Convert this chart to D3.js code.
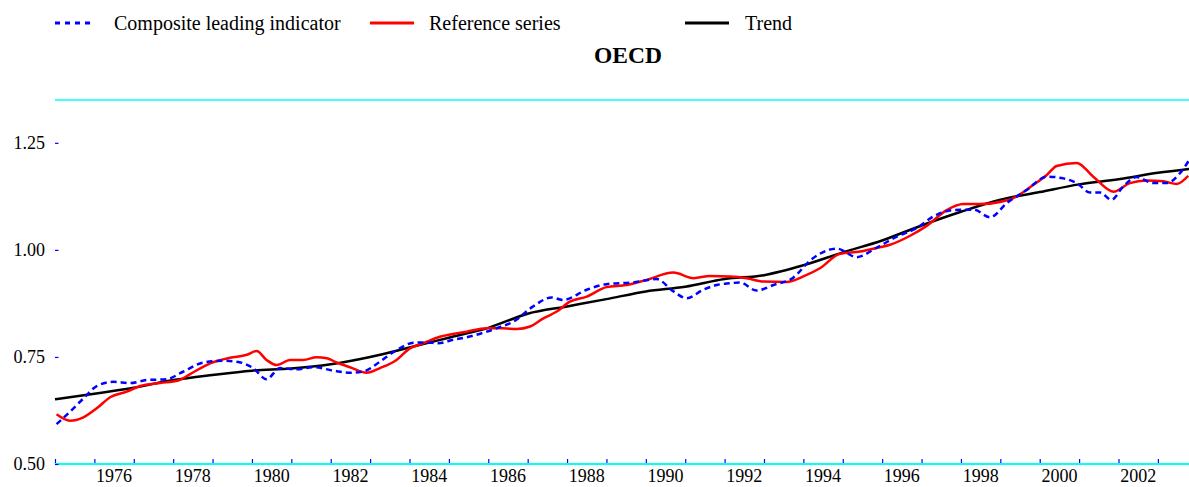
<!DOCTYPE html>
<html>
<head>
<meta charset="utf-8">
<script src="https://cdn.jsdelivr.net/npm/d3@7"></script>
<style>
  html, body { margin: 0; padding: 0; background: #fff; }
  svg { display: block; }
  svg text { font-family: "Liberation Serif", "Times New Roman", serif !important; }
</style>
</head>
<body>
<svg id="chart" width="1189" height="487"></svg>
<script>
// ---- Data ----
const cliYears = [1975.04,1975.38,1975.72,1976.06,1976.48,1976.90,1977.33,1977.83,1978.26,1978.77,1979.27,1979.61,1980.03,1980.37,1980.71,1981.14,1981.56,1982.07,1982.49,1982.83,1983.25,1983.67,1984.10,1984.43,1984.73,1985.11,1985.50,1985.96,1986.30,1986.63,1987.14,1987.61,1987.90,1988.50,1989.00,1989.68,1990.27,1990.70,1991.04,1991.46,1991.80,1992.14,1992.39,1992.81,1993.24,1993.74,1994.17,1994.40,1994.85,1995.35,1995.86,1996.37,1996.88,1997.30,1997.81,1998.32,1998.74,1999.16,1999.67,2000.18,2000.60,2000.94,2001.28,2001.53,2001.82,2002.12,2002.46,2002.88,2003.22,2003.56,2003.79];
const cliValues = [0.593,0.622,0.653,0.682,0.692,0.689,0.696,0.698,0.716,0.737,0.741,0.739,0.724,0.698,0.724,0.721,0.726,0.718,0.713,0.716,0.739,0.766,0.783,0.784,0.782,0.790,0.797,0.809,0.820,0.832,0.868,0.889,0.883,0.907,0.920,0.924,0.932,0.903,0.887,0.907,0.918,0.922,0.924,0.905,0.918,0.935,0.975,0.990,1.003,0.983,1.005,1.031,1.051,1.078,1.093,1.094,1.076,1.109,1.140,1.171,1.167,1.156,1.134,1.134,1.117,1.148,1.170,1.156,1.156,1.179,1.209];

const refYears = [1975.04,1975.38,1975.72,1976.06,1976.40,1976.82,1977.16,1977.67,1978.13,1978.43,1978.94,1979.44,1979.87,1980.12,1980.37,1980.63,1980.97,1981.30,1981.64,1981.90,1982.15,1982.49,1982.91,1983.25,1983.67,1984.01,1984.35,1984.77,1985.45,1985.96,1986.38,1986.72,1987.06,1987.40,1987.74,1988.07,1988.50,1989.00,1989.51,1990.02,1990.70,1991.21,1991.63,1992.14,1992.56,1992.98,1993.57,1994.00,1994.42,1994.93,1995.44,1995.94,1996.20,1996.71,1997.13,1997.64,1998.06,1998.48,1998.99,1999.33,1999.84,2000.18,2000.43,2000.94,2001.36,2001.87,2002.29,2002.71,2003.14,2003.48,2003.77];
const refValues = [0.616,0.601,0.609,0.630,0.656,0.669,0.682,0.689,0.695,0.710,0.735,0.748,0.755,0.764,0.743,0.731,0.743,0.743,0.749,0.747,0.737,0.726,0.713,0.724,0.743,0.770,0.782,0.797,0.809,0.817,0.817,0.815,0.821,0.840,0.856,0.879,0.891,0.913,0.918,0.930,0.947,0.934,0.939,0.938,0.934,0.926,0.925,0.938,0.957,0.991,0.996,1.006,1.012,1.033,1.056,1.093,1.107,1.107,1.112,1.121,1.152,1.175,1.196,1.203,1.171,1.136,1.156,1.162,1.160,1.154,1.173];

const trendYears = [1975.0,1976.0,1977.0,1978.0,1979.0,1980.0,1981.0,1982.0,1983.0,1984.0,1985.0,1986.0,1987.0,1988.0,1989.0,1990.0,1991.0,1992.0,1993.0,1994.0,1995.0,1996.0,1997.0,1998.0,1999.0,2000.0,2001.0,2002.0,2003.0,2003.79];
const trendValues = [0.651,0.664,0.678,0.696,0.708,0.718,0.723,0.733,0.750,0.772,0.795,0.818,0.851,0.868,0.885,0.903,0.914,0.932,0.941,0.964,0.994,1.022,1.057,1.089,1.117,1.135,1.153,1.165,1.180,1.189];

const yTickValues = [0.50, 0.75, 1.00, 1.25];
const xTickYears = d3.range(1975, 2004);
const xLabelYears = d3.range(1976, 2003, 2);

const legendItems = ["Composite leading indicator", "Reference series", "Trend"];
const titleText = "OECD";

// ---- Layout ----
const svg = d3.select("#chart");
const plotLeft = 55, plotRight = 1189, plotTop = 100, plotBottom = 464;
const serif = "'Liberation Serif', 'Times New Roman', serif";

const x = d3.scaleLinear().domain([1975, 2003.79]).range([plotLeft, plotRight]);
const y = d3.scaleLinear().domain([0.5, 1.35]).range([plotBottom, plotTop]);

const cyan = "#00FFFF", blue = "#0000FF", red = "#FF0000", black = "#000000";

// top frame line
svg.append("line").attr("x1", plotLeft).attr("x2", plotRight).attr("y1", plotTop).attr("y2", plotTop)
  .attr("stroke", cyan).attr("stroke-width", 1.5);

// x axis
const xAxis = d3.axisBottom(x).tickValues(xTickYears).tickSize(0).tickFormat("");
const gx = svg.append("g").attr("transform", `translate(0,${plotBottom})`).call(xAxis);
gx.select(".domain").remove();
gx.append("line").attr("x1", plotLeft).attr("x2", plotRight).attr("y1", 0).attr("y2", 0)
  .attr("stroke", cyan).attr("stroke-width", 1.8);
gx.selectAll(".tick").append("line").attr("y1", 0).attr("y2", -5)
  .attr("stroke", blue).attr("stroke-width", 1.2);

svg.append("g").selectAll("text").data(xLabelYears).join("text")
  .attr("x", d => x(d + 0.5)).attr("y", 482)
  .attr("text-anchor", "middle").style("font-family", serif).style("font-size", "18px")
  .attr("fill", "#000")
  .text(d => d);

// y axis (ticks only, no line)
const yAxis = d3.axisLeft(y).tickValues(yTickValues).tickSize(0).tickPadding(10)
  .tickFormat(d3.format(".2f"));
const gy = svg.append("g").attr("transform", `translate(${plotLeft},0)`).call(yAxis);
gy.attr("font-family", null).attr("font-size", null);
gy.select(".domain").remove();
gy.selectAll(".tick text").style("font-family", serif).style("font-size", "18px").attr("fill", "#000");
gy.selectAll(".tick").append("line").attr("x1", 0).attr("x2", 3.5)
  .attr("stroke", blue).attr("stroke-width", 1.2);

// lines
const mkLine = (xs) => d3.line().x((d, i) => x(xs[i])).y(d => y(d)).curve(d3.curveMonotoneX);

svg.append("path").datum(trendValues).attr("d", mkLine(trendYears))
  .attr("fill", "none").attr("stroke", black).attr("stroke-width", 2.5);
svg.append("path").datum(refValues).attr("d", mkLine(refYears))
  .attr("fill", "none").attr("stroke", red).attr("stroke-width", 2.5);
svg.append("path").datum(cliValues).attr("d", mkLine(cliYears))
  .attr("fill", "none").attr("stroke", blue).attr("stroke-width", 2.5)
  .attr("stroke-dasharray", "6,4");

// legend
const legend = [
  {label: legendItems[0], color: blue, dash: "5,5", x1: 55, x2: 95, tx: 114},
  {label: legendItems[1], color: red, dash: null, x1: 370, x2: 414, tx: 429},
  {label: legendItems[2], color: black, dash: null, x1: 685, x2: 729, tx: 745}
];
const lg = svg.append("g");
legend.forEach(l => {
  lg.append("line").attr("x1", l.x1).attr("x2", l.x2).attr("y1", 23).attr("y2", 23)
    .attr("stroke", l.color).attr("stroke-width", 3)
    .attr("stroke-dasharray", l.dash);
  lg.append("text").attr("x", l.tx).attr("y", 29.5)
    .style("font-family", serif).style("font-size", "20px")
    .attr("fill", "#000").text(l.label);
});

// title
svg.append("text").attr("x", 628).attr("y", 63).attr("text-anchor", "middle")
  .style("font-family", serif).style("font-size", "23.5px").style("font-weight", "bold")
  .attr("fill", "#000")
  .text(titleText);
</script>
</body>
</html>
